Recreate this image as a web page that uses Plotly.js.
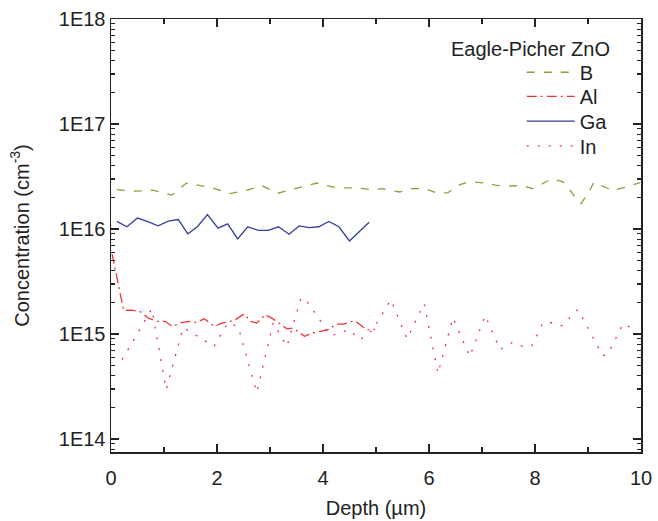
<!DOCTYPE html>
<html>
<head>
<meta charset="utf-8">
<script src="https://cdn.plot.ly/plotly-3.0.1.min.js"></script>
<style>html,body{margin:0;padding:0;background:#fff;}#chart{width:658px;height:521px;}</style>
</head>
<body>
<div id="chart"></div>
<script>
// Depth (µm) and concentration (cm^-3)
const bDepth = [0.11,0.45,0.79,1.15,1.42,1.87,2.25,2.57,2.85,3.15,3.51,3.89,4.26,4.64,4.92,5.11,5.30,5.45,5.64,5.92,6.17,6.36,6.53,6.72,6.91,7.09,7.25,7.47,7.62,7.81,7.96,8.15,8.32,8.53,8.64,8.79,8.87,9.04,9.11,9.32,9.47,9.66,9.87,9.98];
const bConc  = [2.37e16,2.29e16,2.34e16,2.10e16,2.73e16,2.50e16,2.17e16,2.34e16,2.58e16,2.19e16,2.45e16,2.74e16,2.46e16,2.46e16,2.37e16,2.42e16,2.32e16,2.25e16,2.42e16,2.42e16,2.19e16,2.22e16,2.58e16,2.78e16,2.78e16,2.74e16,2.62e16,2.55e16,2.58e16,2.55e16,2.42e16,2.74e16,3.01e16,2.81e16,2.42e16,1.90e16,1.74e16,2.37e16,2.78e16,2.51e16,2.32e16,2.46e16,2.64e16,2.76e16];

const alDepth = [0.02,0.24,0.39,0.55,0.70,0.86,1.02,1.16,1.30,1.46,1.62,1.76,1.95,2.09,2.20,2.35,2.51,2.64,2.75,2.91,3.05,3.19,3.32,3.44,3.65,3.80,3.94,4.10,4.25,4.38,4.60,4.82,4.98];
const alConc  = [5.8e15,1.67e15,1.69e15,1.63e15,1.42e15,1.32e15,1.32e15,1.18e15,1.27e15,1.32e15,1.29e15,1.40e15,1.18e15,1.27e15,1.30e15,1.37e15,1.55e15,1.32e15,1.27e15,1.53e15,1.40e15,1.24e15,1.12e15,1.14e15,9.5e14,1.02e15,1.06e15,1.10e15,1.24e15,1.24e15,1.34e15,1.10e15,1.10e15];

const gaDepth = [0.11,0.30,0.50,0.67,0.89,1.08,1.27,1.45,1.63,1.82,2.02,2.20,2.39,2.58,2.78,2.97,3.16,3.36,3.55,3.74,3.92,4.11,4.30,4.50,4.87];
const gaConc  = [1.18e16,1.05e16,1.27e16,1.19e16,1.07e16,1.19e16,1.23e16,9.0e15,1.05e16,1.37e16,1.02e16,1.12e16,8.04e15,1.05e16,9.7e15,9.7e15,1.05e16,8.9e15,1.07e16,1.03e16,1.05e16,1.18e16,1.05e16,7.7e15,1.16e16];

const inDepth = [0.21,0.77,1.04,1.36,1.55,1.94,2.21,2.40,2.75,3.06,3.32,3.585,3.70,4.15,4.49,4.70,4.94,5.28,5.585,5.91,6.17,6.45,6.77,7.06,7.34,7.57,7.77,7.94,8.15,8.32,8.51,8.81,9.28,9.38,9.66,9.87];
const inConc  = [5.7e14,1.74e15,2.95e14,1.15e15,1.01e15,7.6e14,1.28e15,1.17e15,2.77e14,1.28e15,7.6e14,2.22e15,2.03e15,9.6e14,1.10e15,8.8e14,1.10e15,2.12e15,9.0e14,1.95e15,4.2e14,1.43e15,6.1e14,1.50e15,7.1e14,8.3e14,7.6e14,7.7e14,1.28e15,1.28e15,1.20e15,1.71e15,6.2e14,6.5e14,1.25e15,1.12e15];

const yTickVals = [1e14,1e15,1e16,1e17,1e18];
const yTickText = ['1E14','1E15','1E16','1E17','1E18'];
const seriesNames = ['B','Al','Ga','In'];
const legendTitle = 'Eagle-Picher ZnO';

const FONT = 'Liberation Sans, Arial, sans-serif';
const traces = [
  {x:bDepth, y:bConc, name:seriesNames[0], legend:'legend', mode:'lines', line:{color:'#939b3d', width:1.3, dash:'8px,9px'}},
  {x:alDepth, y:alConc, name:seriesNames[1], legend:'legend2', mode:'lines', line:{color:'#ee3535', width:1.3, dash:'10px,4px,2px,4px'}},
  {x:gaDepth, y:gaConc, name:seriesNames[2], legend:'legend3', mode:'lines', line:{color:'#34409c', width:1.3}},
  {x:inDepth, y:inConc, name:seriesNames[3], legend:'legend4', mode:'lines', line:{color:'#e8288a', width:1.3, dash:'2px,9px'}}
];

function legendAt(yPaper) {
  return {x:0.775, y:yPaper, xanchor:'left', yanchor:'top', bgcolor:'rgba(0,0,0,0)',
          font:{family:FONT, size:20, color:'#222'}, itemwidth:48};
}

const layout = {
  width:658, height:521,
  margin:{l:111, r:17, t:19, b:69},
  paper_bgcolor:'#fff', plot_bgcolor:'#fff',
  font:{family:FONT, size:20, color:'#222'},
  showlegend:true,
  legend:legendAt(0.922),
  legend2:legendAt(0.8665),
  legend3:legendAt(0.8093),
  legend4:legendAt(0.7522),
  xaxis:{range:[0,10], dtick:2, tick0:0, ticks:'inside', ticklen:8, tickwidth:1.3, tickcolor:'#222',
         minor:{ticks:'inside', dtick:1, ticklen:5, tickwidth:1.3, tickcolor:'#222'},
         mirror:'allticks', showline:true, linecolor:'#222', linewidth:1.5,
         showgrid:false, zeroline:false, ticklabelstandoff:7,
         tickfont:{family:FONT, size:20, color:'#222'},
         title:{text:'Depth (\u00b5m)', font:{family:FONT, size:20, color:'#222'}, standoff:13}},
  yaxis:{type:'log', range:[13.876,18], tickmode:'array', tickvals:yTickVals, ticktext:yTickText,
         ticks:'inside', ticklen:8, tickwidth:1.3, tickcolor:'#222',
         minor:{ticks:'inside', dtick:'D1', ticklen:4, tickwidth:1.3, tickcolor:'#222'},
         mirror:'allticks', showline:true, linecolor:'#222', linewidth:1.5,
         showgrid:false, zeroline:false,
         tickfont:{family:FONT, size:20, color:'#222'},
         title:{text:'Concentration (cm<sup>-3</sup>)', font:{family:FONT, size:20, color:'#222'}, standoff:24}},
  annotations:[{text:legendTitle, xref:'paper', yref:'paper', x:0.945, y:0.931, xanchor:'right', yanchor:'middle',
                showarrow:false, font:{family:FONT, size:20, color:'#222'}}]
};

Plotly.newPlot('chart', traces, layout, {displayModeBar:false, staticPlot:true});
</script>
</body>
</html>
